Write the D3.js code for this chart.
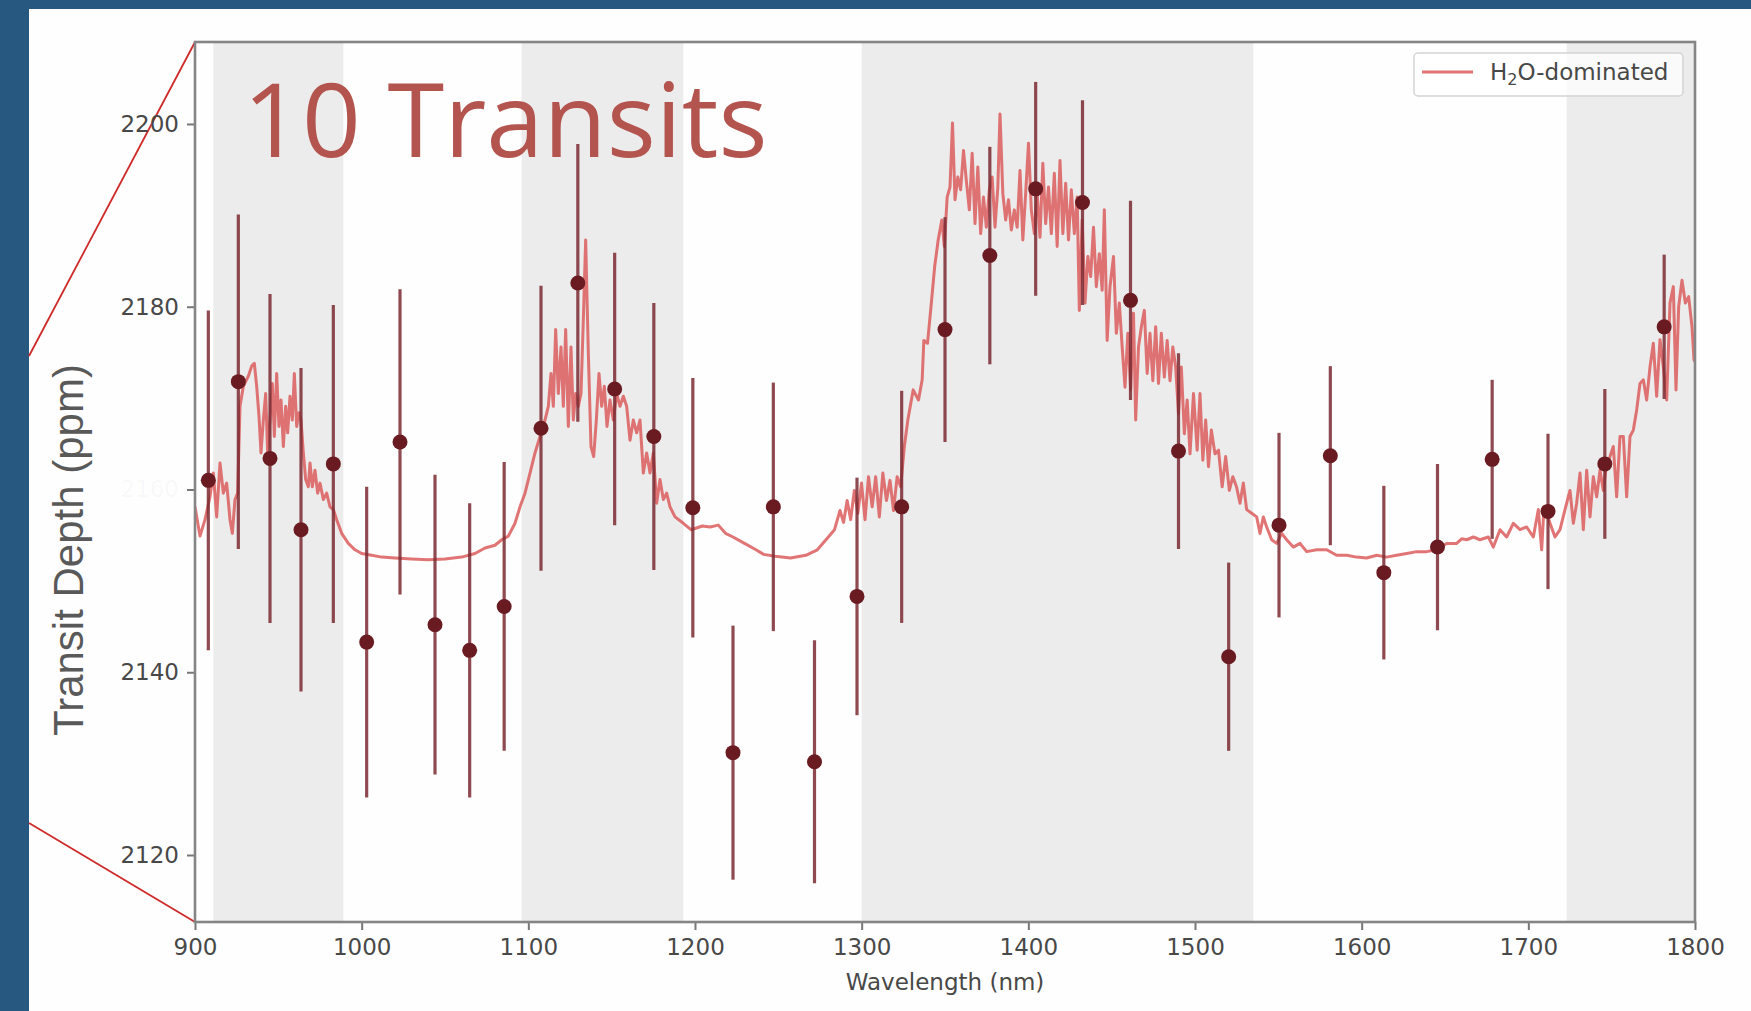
<!DOCTYPE html>
<html>
<head>
<meta charset="utf-8">
<script src="https://cdn.jsdelivr.net/npm/d3@7"></script>
<style>
  html, body { margin: 0; padding: 0; background: #27587f; }
  svg { display: block; }
</style>
</head>
<body>
<svg id="chart" width="1751" height="1011"></svg>
<script>
// Shaded wavelength windows (nm)
const bandStart = [911, 1096, 1300, 1723];
const bandEnd   = [989, 1193, 1535, 1800];

// Binned transit depths with 1-sigma errors
const binWavelength = [908, 926, 945, 963.6, 983, 1003, 1023, 1044, 1064.8, 1085.5,
  1107.6, 1129.7, 1151.8, 1175.3, 1198.7, 1222.8, 1247, 1271.7, 1297.2, 1324,
  1350, 1376.9, 1404.4, 1432.5, 1461.3, 1490.1, 1520.2, 1550.4, 1581.2, 1613.3,
  1645.5, 1678.3, 1711.8, 1745.9, 1781.5];
const binDepth = [2161, 2171.8, 2163.4, 2155.6, 2162.8, 2143.3, 2165.2, 2145.2, 2142.4, 2147.2,
  2166.7, 2182.6, 2171, 2165.8, 2158, 2131.2, 2158.1, 2130.2, 2148.3, 2158.1,
  2177.5, 2185.6, 2192.9, 2191.4, 2180.7, 2164.2, 2141.7, 2156.1, 2163.7, 2150.9,
  2153.7, 2163.3, 2157.6, 2162.8, 2177.8];
const binError = [18.6, 18.3, 18, 17.7, 17.4, 17, 16.7, 16.4, 16.1, 15.8,
  15.6, 15.2, 14.9, 14.6, 14.2, 13.9, 13.6, 13.3, 13, 12.7,
  12.3, 11.9, 11.7, 11.2, 10.9, 10.7, 10.3, 10.1, 9.8, 9.5,
  9.1, 8.7, 8.5, 8.2, 7.9];

// H2O-dominated model spectrum
const modelWavelength = [900, 903, 906, 909, 911, 913, 915, 917, 919, 921, 922.4, 924, 925.6, 927, 929, 932, 934, 935.6, 937, 938.4,
  939.6, 941, 942.4, 943.6, 945, 946.4, 947.6, 949, 950.4, 951.6, 953, 954.4, 955.6, 957, 958.4, 959.6, 961, 962.4, 963.6, 965,
  966.4, 968, 969, 970.4, 972, 973.6, 975, 977, 979, 981, 983, 985, 988, 992, 996, 1000, 1006, 1012, 1020, 1030,
  1040, 1050, 1060, 1068, 1074, 1080, 1084, 1088, 1092, 1095, 1098, 1101, 1104, 1107, 1110, 1112, 1113.6, 1115, 1116.4, 1118,
  1119.6, 1121, 1122.4, 1124, 1125.6, 1127, 1128.4, 1130, 1131.6, 1133, 1134.4, 1136, 1137.6, 1139.2, 1140.8, 1142.4, 1144, 1145.6, 1147.2, 1149,
  1151, 1153, 1155, 1157, 1159, 1161, 1163, 1165, 1167, 1169, 1171, 1173, 1175, 1177, 1179, 1181, 1183, 1185, 1188, 1193,
  1197.6, 1204.5, 1209, 1214, 1218.3, 1222.8, 1229.7, 1236.6, 1241.2, 1248.1, 1257.3, 1266.5, 1273.4, 1279.1, 1283.7, 1287, 1289.1, 1291.3, 1293.4, 1295.6,
  1297.7, 1299.9, 1302, 1304.1, 1306.3, 1308.4, 1310.6, 1312.7, 1314.9, 1317, 1319.1, 1321.3, 1323.4, 1325.6, 1327.7, 1330.9, 1334.1, 1336.3, 1337.3, 1339.5,
  1341.6, 1343.8, 1345.9, 1348.1, 1349.6, 1351.3, 1353, 1354.5, 1356, 1357.7, 1359.4, 1361.1, 1362.8, 1364.6, 1366.3, 1368, 1369.7, 1371.4, 1373.1, 1374.8,
  1376.6, 1378.3, 1380, 1381.7, 1383, 1384.7, 1386.4, 1388.1, 1389.8, 1391.6, 1393.3, 1395, 1396.7, 1398.4, 1400.1, 1401.8, 1403.6, 1405.3, 1407, 1408.7,
  1410.4, 1412.1, 1413.8, 1415.6, 1417.3, 1419, 1420.7, 1422.4, 1424.1, 1425.8, 1427.6, 1429.3, 1430.6, 1432.3, 1434, 1435.7, 1437.4, 1439.1, 1440.8, 1442.6,
  1444.3, 1445.6, 1447.3, 1449, 1451.1, 1452.8, 1454.6, 1456.3, 1458, 1459.7, 1461.4, 1463.1, 1464.4, 1466.1, 1467.8, 1469.6, 1471.3, 1473, 1474.7, 1476.4,
  1478.1, 1479.8, 1481.6, 1483.3, 1485, 1486.7, 1488.4, 1490.1, 1491.8, 1493.6, 1495.3, 1497, 1499.1, 1501.3, 1503, 1504.7, 1506.4, 1508.1, 1509.8, 1512,
  1514.1, 1516.3, 1518.4, 1520.6, 1522.7, 1524.9, 1527, 1529, 1531, 1534, 1537, 1539, 1541, 1543, 1546, 1549, 1552, 1555, 1559, 1563,
  1567, 1573, 1579, 1585, 1591, 1597, 1603, 1609, 1615, 1621, 1627, 1633, 1639, 1645, 1651, 1657, 1660, 1663, 1667, 1671,
  1676, 1679, 1683, 1687, 1691, 1695, 1699, 1703, 1706, 1708, 1709.4, 1711, 1713, 1716, 1719, 1722, 1725, 1727, 1729, 1731,
  1733, 1735, 1737, 1739, 1741, 1743, 1745, 1747, 1749, 1751, 1753, 1755, 1757, 1759, 1761, 1763, 1765, 1767, 1769, 1771,
  1773, 1775, 1777, 1779, 1781, 1783, 1785, 1787, 1788.6, 1790.2, 1792.2, 1794.2, 1796.2, 1798.2, 1799.4, 1800];
const modelDepth = [2158.1, 2154.9, 2156.7, 2159.2, 2161.8, 2157, 2162.9, 2159.6, 2160.7, 2156.7, 2155.2, 2158.9, 2159.6, 2169.1, 2171.3, 2172.4, 2173.5, 2173.8, 2171.3, 2168,
  2164, 2167.6, 2170.5, 2164, 2167.6, 2171.6, 2165.8, 2172.7, 2166.9, 2169.8, 2164.7, 2169.1, 2166.2, 2170.2, 2167.6, 2172.7, 2166.9, 2168.4, 2167.6, 2164,
  2161.1, 2160.3, 2162.9, 2160.3, 2162.1, 2159.6, 2160.7, 2158.9, 2159.6, 2158.1, 2157.8, 2156.7, 2155.2, 2154.1, 2153.4, 2153, 2152.8, 2152.6, 2152.5, 2152.4,
  2152.3, 2152.4, 2152.6, 2153, 2153.6, 2153.9, 2154.5, 2154.9, 2156.3, 2158.1, 2159.6, 2161.8, 2164, 2165.8, 2167.6, 2169.1, 2172.7, 2169.1, 2177.5, 2170.5,
  2175.6, 2169.1, 2177.5, 2166.9, 2175.6, 2167.6, 2170.5, 2169.1, 2170.5, 2178.6, 2187.3, 2174.9, 2164.7, 2163.6, 2167.6, 2172.7, 2169.1, 2171.3, 2166.9, 2169.8,
  2167.6, 2170.5, 2169.1, 2170.2, 2169.1, 2165.4, 2167.6, 2166.2, 2167.6, 2161.8, 2164, 2161.8, 2164, 2158.5, 2161.1, 2158.9, 2159.6, 2158.1, 2157, 2156.3,
  2155.6, 2156, 2155.9, 2156.1, 2155.2, 2154.8, 2154.1, 2153.4, 2152.9, 2152.7, 2152.5, 2152.8, 2153.4, 2154.6, 2155.6, 2157.7, 2156.4, 2158.8, 2156.7, 2159.9,
  2157.4, 2160.7, 2156.7, 2161.4, 2158.1, 2161.4, 2157, 2161.8, 2158.8, 2161, 2157.7, 2161.4, 2160.3, 2164.7, 2167.6, 2170.9, 2169.8, 2172, 2176.3, 2176,
  2180, 2184.4, 2187.3, 2189.5, 2186.6, 2192, 2193.1, 2200.1, 2191.7, 2194.2, 2192.8, 2197.1, 2193.8, 2190.6, 2196.8, 2189.1, 2195.3, 2188, 2192, 2188.7,
  2192.8, 2194.2, 2188.7, 2193.1, 2201.1, 2192.4, 2189.5, 2191.7, 2188.4, 2190.6, 2188.7, 2194.9, 2187.3, 2192.4, 2197.9, 2190.6, 2188, 2192.4, 2187.6, 2195.7,
  2189.1, 2193.1, 2188, 2194.6, 2186.6, 2196, 2188, 2193.5, 2187.3, 2192.8, 2188, 2192, 2179.6, 2189.5, 2180.4, 2185.5, 2183.3, 2188.7, 2182.2, 2185.8,
  2181.8, 2190.6, 2176.3, 2182.2, 2185.5, 2177.1, 2180.4, 2175.6, 2171.2, 2177.1, 2170.9, 2179.3, 2167.6, 2175.6, 2177.8, 2179.6, 2172.7, 2177.1, 2171.9, 2177.8,
  2171.6, 2177.1, 2172.3, 2176.3, 2171.9, 2175.6, 2173.4, 2168.3, 2173.4, 2166.1, 2169.8, 2163.9, 2170.5, 2164.3, 2170.5, 2163.2, 2167.6, 2162.5, 2166.5, 2163.9,
  2164.3, 2160.3, 2163.6, 2159.9, 2161.4, 2160.3, 2158.5, 2160.7, 2157.8, 2157.4, 2157, 2155.2, 2157, 2155.9, 2154.5, 2154.1, 2155.2, 2154.5, 2153.7, 2154.1,
  2153.2, 2153.4, 2153.4, 2152.8, 2152.8, 2152.6, 2152.5, 2152.8, 2152.6, 2152.8, 2153, 2153.2, 2153.2, 2153.4, 2154.1, 2154.1, 2154.6, 2154.5, 2154.8, 2154.5,
  2154.8, 2153.7, 2155.6, 2154.8, 2156.3, 2155.6, 2155.9, 2154.8, 2157.8, 2153.4, 2158.1, 2157.4, 2156.3, 2154.8, 2155.6, 2157.8, 2159.9, 2156.3, 2158.5, 2161.8,
  2155.6, 2162.1, 2157, 2161.4, 2159.2, 2162.1, 2159.9, 2162.9, 2163.6, 2164.7, 2159.2, 2165.8, 2165.8, 2159.2, 2165.8, 2166.5, 2168.7, 2171.6, 2172, 2169.8,
  2173.4, 2176, 2170.2, 2176.4, 2173.4, 2169.8, 2180.4, 2182.2, 2170.9, 2180, 2182.9, 2180.4, 2181.1, 2177.8, 2174.2, 2174];

// Axis ticks
const xTicks = [900, 1000, 1100, 1200, 1300, 1400, 1500, 1600, 1700, 1800];
const yTicks = [2120, 2140, 2160, 2180, 2200];

const svg = d3.select("#chart");
const W = 1751, H = 1011;
const plot = { left: 195, right: 1695, top: 42, bottom: 922 };

const x = d3.scaleLinear().domain([900, 1800]).range([plot.left, plot.right]);
const y = d3.scaleLinear().domain([2112.67, 2208.97]).range([plot.bottom, plot.top]);

// Slide background: blue frame with white panel
svg.append("rect").attr("width", W).attr("height", H).attr("fill", "#27587f");
svg.append("rect").attr("x", 29).attr("y", 9).attr("width", W - 29).attr("height", H - 9).attr("fill", "#fefefe");

// Zoom-in guide lines from the left edge of the panel
svg.append("line").attr("x1", 29).attr("y1", 356).attr("x2", plot.left).attr("y2", plot.top)
  .attr("stroke", "#cf2a2a").attr("stroke-width", 1.8);
svg.append("line").attr("x1", 29).attr("y1", 823).attr("x2", plot.left).attr("y2", plot.bottom)
  .attr("stroke", "#cf2a2a").attr("stroke-width", 1.8);

svg.append("clipPath").attr("id", "plotclip").append("rect")
  .attr("x", plot.left).attr("y", plot.top)
  .attr("width", plot.right - plot.left).attr("height", plot.bottom - plot.top);

const g = svg.append("g").attr("clip-path", "url(#plotclip)");

// Grey wavelength windows
g.selectAll("rect.band").data(bandStart).enter().append("rect")
  .attr("class", "band")
  .attr("x", (d) => x(d))
  .attr("width", (d, i) => x(bandEnd[i]) - x(d))
  .attr("y", plot.top).attr("height", plot.bottom - plot.top)
  .attr("fill", "#ececec");

// Model spectrum
const lineColor = "#dc5c5c";
const model = modelWavelength.map((w, i) => [w, modelDepth[i]]);
g.append("path").datum(model)
  .attr("fill", "none")
  .attr("stroke", lineColor)
  .attr("stroke-opacity", 0.85)
  .attr("stroke-width", 3)
  .attr("stroke-linejoin", "round")
  .attr("d", d3.line().x((d) => x(d[0])).y((d) => y(d[1])));

// Error bars and binned points
const bins = binWavelength.map((w, i) => ({ w, d: binDepth[i], e: binError[i] }));
g.selectAll("line.err").data(bins).enter().append("line")
  .attr("class", "err")
  .attr("x1", (d) => x(d.w)).attr("x2", (d) => x(d.w))
  .attr("y1", (d) => y(d.d - d.e)).attr("y2", (d) => y(d.d + d.e))
  .attr("stroke", "#7a2a31").attr("stroke-opacity", 0.85).attr("stroke-width", 3.2);
g.selectAll("circle.bin").data(bins).enter().append("circle")
  .attr("class", "bin")
  .attr("cx", (d) => x(d.w)).attr("cy", (d) => y(d.d)).attr("r", 7.5)
  .attr("fill", "#6a1b22");

// Axes
const tickFont = "'DejaVu Sans', sans-serif";
const xAxis = svg.append("g").attr("transform", `translate(0,${plot.bottom})`)
  .call(d3.axisBottom(x).tickValues(xTicks).tickSize(8).tickPadding(9).tickFormat(d3.format("d")));
const yAxis = svg.append("g").attr("transform", `translate(${plot.left},0)`)
  .call(d3.axisLeft(y).tickValues(yTicks).tickSize(8).tickPadding(8).tickFormat(d3.format("d")));
[xAxis, yAxis].forEach((a) => {
  a.select(".domain").remove();
  a.selectAll(".tick line").attr("stroke", "#777").attr("stroke-width", 2);
  a.selectAll(".tick text").attr("fill", "#484848").style("font-family", tickFont).style("font-size", "23px");
});
// the 2160 label sits under the axis title and is barely visible
yAxis.selectAll(".tick text").filter((d) => d === 2160).attr("fill-opacity", 0.04);

// Plot frame
svg.append("rect")
  .attr("x", plot.left).attr("y", plot.top)
  .attr("width", plot.right - plot.left).attr("height", plot.bottom - plot.top)
  .attr("fill", "none").attr("stroke", "#858585").attr("stroke-width", 2.6);

// Axis titles
svg.append("text")
  .attr("x", (plot.left + plot.right) / 2).attr("y", 990)
  .attr("text-anchor", "middle")
  .attr("fill", "#484848")
  .style("font-family", tickFont).style("font-size", "23px")
  .text("Wavelength (nm)");
svg.append("text")
  .attr("transform", "translate(83,550) rotate(-90)")
  .attr("text-anchor", "middle")
  .attr("fill", "#595959")
  .style("font-family", "'Liberation Sans', Arial, sans-serif").style("font-size", "42px")
  .text("Transit Depth (ppm)");

// Panel heading
svg.append("text")
  .attr("x", 243).attr("y", 157)
  .attr("fill", "#b3544e")
  .style("font-family", "'Open Sans', sans-serif").style("font-size", "103px")
  .text("10 Transits");

// Legend
const lg = svg.append("g");
lg.append("rect")
  .attr("x", 1414).attr("y", 53).attr("width", 269).attr("height", 43).attr("rx", 4)
  .attr("fill", "#ffffff").attr("fill-opacity", 0.75)
  .attr("stroke", "#d4d4d4").attr("stroke-width", 1.5);
lg.append("line")
  .attr("x1", 1422).attr("x2", 1473).attr("y1", 72).attr("y2", 72)
  .attr("stroke", lineColor).attr("stroke-opacity", 0.85).attr("stroke-width", 3);
const lt = lg.append("text")
  .attr("x", 1490).attr("y", 80)
  .attr("fill", "#484848")
  .style("font-family", tickFont).style("font-size", "23px");
lt.append("tspan").text("H");
lt.append("tspan").attr("dy", 5).style("font-size", "16px").text("2");
lt.append("tspan").attr("dy", -5).text("O-dominated");
</script>
</body>
</html>
